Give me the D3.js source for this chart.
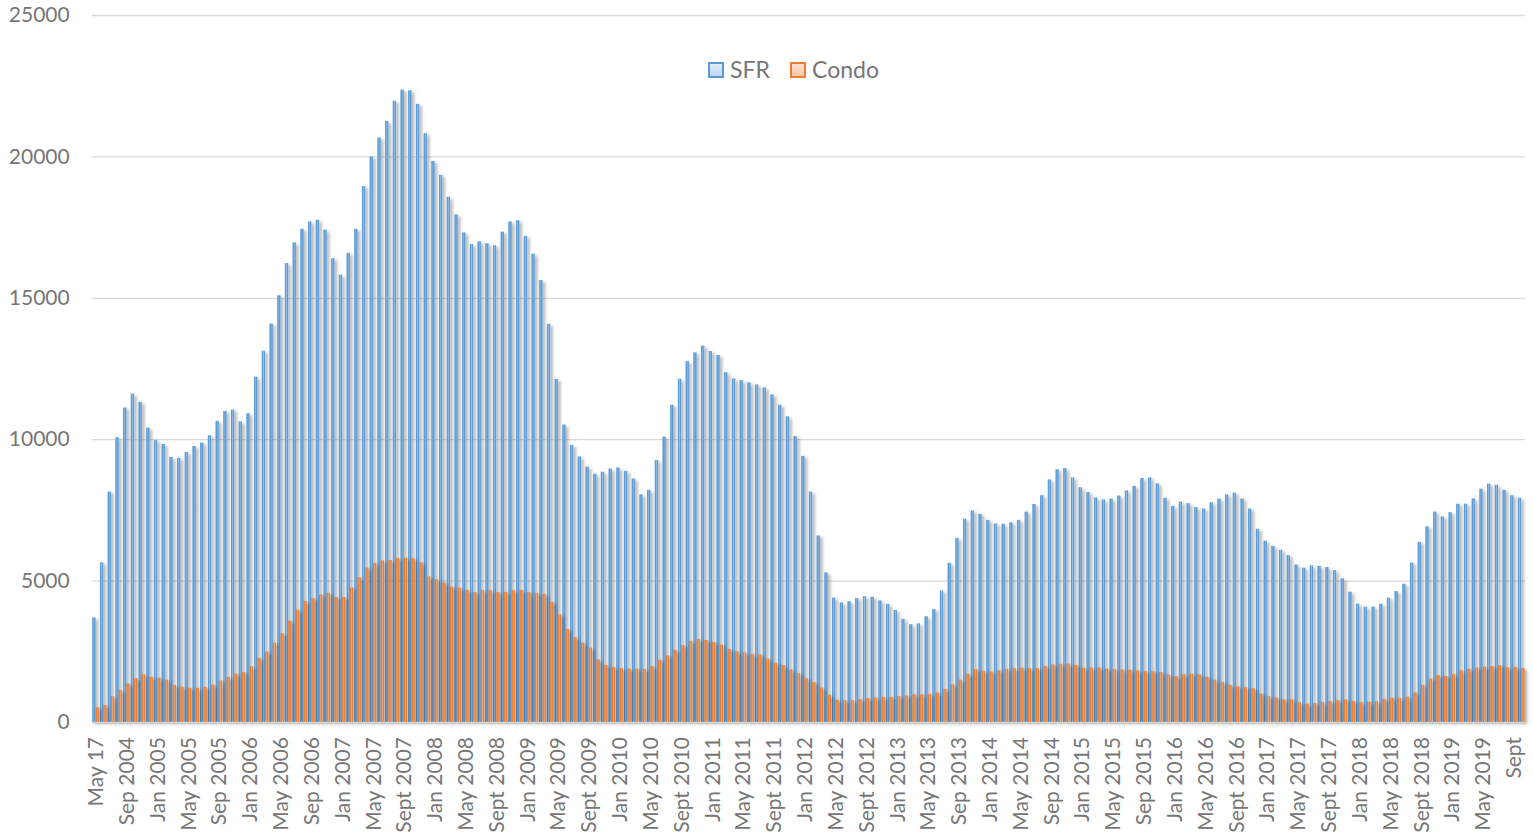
<!DOCTYPE html>
<meta charset="utf-8" />
<html>
<head>
<title>SFR vs Condo</title>
<script src="https://cdn.jsdelivr.net/npm/d3@7"></script>
<style>
  body { margin: 0; background: #fff; }
  text { font-family: Lato, "Open Sans", sans-serif; fill: #767676; }
</style>
</head>
<body>
<div id="viz"></div>
<script>

// monthly counts, May 2004 .. Oct 2019
var sfr = [3700, 5650, 8150, 10070, 11120, 11610, 11320, 10410, 9980, 9830,
  9370, 9340, 9550, 9760, 9880, 10140, 10650, 11000, 11050, 10630,
  10920, 12210, 13130, 14090, 15090, 16230, 16960, 17440, 17700, 17760,
  17410, 16400, 15820, 16590, 17440, 18950, 20000, 20670, 21250, 21970,
  22360, 22340, 21860, 20820, 19840, 19350, 18570, 17950, 17310, 16900,
  17000, 16930, 16860, 17340, 17700, 17740, 17190, 16560, 15630, 14080,
  12130, 10520, 9800, 9390, 9030, 8780, 8850, 8960, 9000, 8880,
  8610, 8050, 8210, 9270, 10090, 11220, 12140, 12760, 13070, 13310,
  13120, 12980, 12370, 12150, 12090, 12010, 11940, 11830, 11580, 11220,
  10810, 10110, 9410, 8150, 6600, 5290, 4400, 4230, 4270, 4380,
  4450, 4430, 4300, 4180, 3960, 3650, 3460, 3490, 3740, 3990,
  4650, 5630, 6510, 7190, 7480, 7360, 7150, 7020, 7010, 7060,
  7150, 7440, 7710, 8020, 8580, 8940, 8980, 8650, 8300, 8130,
  7940, 7870, 7900, 8010, 8190, 8350, 8630, 8650, 8440, 7930,
  7640, 7790, 7740, 7600, 7550, 7770, 7900, 8050, 8110, 7900,
  7550, 6830, 6410, 6230, 6090, 5900, 5570, 5460, 5540, 5520,
  5480, 5370, 5080, 4610, 4190, 4080, 4080, 4180, 4400, 4630,
  4890, 5640, 6370, 6920, 7440, 7270, 7420, 7720, 7720, 7910,
  8250, 8430, 8390, 8210, 8020, 7930];

var condo = [520, 600, 910, 1130, 1360, 1550, 1690, 1600, 1570, 1500,
  1310, 1250, 1210, 1210, 1240, 1320, 1470, 1600, 1710, 1760,
  1970, 2270, 2490, 2810, 3140, 3580, 3970, 4280, 4380, 4510,
  4570, 4420, 4420, 4760, 5120, 5460, 5630, 5710, 5730, 5790,
  5810, 5790, 5650, 5150, 5050, 4930, 4790, 4750, 4670, 4590,
  4670, 4660, 4590, 4600, 4660, 4670, 4590, 4570, 4530, 4250,
  3810, 3290, 3000, 2810, 2630, 2210, 2020, 1950, 1910, 1890,
  1890, 1880, 1980, 2200, 2360, 2550, 2720, 2870, 2940, 2900,
  2830, 2740, 2580, 2500, 2460, 2410, 2390, 2240, 2100, 2010,
  1860, 1730, 1550, 1410, 1220, 970, 790, 770, 770, 810,
  840, 870, 890, 890, 920, 940, 980, 980, 1000, 1040,
  1170, 1330, 1500, 1700, 1870, 1810, 1790, 1830, 1880, 1900,
  1920, 1900, 1900, 1980, 2040, 2060, 2070, 2020, 1920, 1930,
  1930, 1890, 1870, 1860, 1850, 1820, 1800, 1800, 1770, 1680,
  1620, 1690, 1710, 1690, 1600, 1500, 1420, 1310, 1260, 1230,
  1190, 1010, 920, 870, 800, 800, 700, 650, 670, 710,
  740, 770, 800, 750, 700, 720, 730, 820, 860, 850,
  900, 1050, 1310, 1540, 1660, 1630, 1700, 1830, 1880, 1930,
  1960, 1980, 2010, 1940, 1950, 1910];

// every 4th month gets a label
var tickLabels = ["May 17", "Sep 2004", "Jan 2005", "May 2005", "Sep 2005",
  "Jan 2006", "May 2006", "Sep 2006", "Jan 2007", "May 2007", "Sept 2007",
  "Jan 2008", "May 2008", "Sept 2008", "Jan 2009", "May 2009", "Sept 2009",
  "Jan 2010", "May 2010", "Sept 2010", "Jan 2011", "May 2011", "Sept 2011",
  "Jan 2012", "May 2012", "Sept 2012", "Jan 2013", "May 2013", "Sep 2013",
  "Jan 2014", "May 2014", "Sep 2014", "Jan 2015", "May 2015", "Sep 2015",
  "Jan 2016", "May 2016", "Sept 2016", "Jan 2017", "May 2017", "Sept 2017",
  "Jan 2018", "May 2018", "Sept 2018", "Jan 2019", "May 2019", "Sept"];

var seriesNames = ["SFR", "Condo"];
var seriesData = [sfr, condo];

var width = 1533,
    height = 836;
var plotL = 91.7, plotR = 1525, plotT = 15, plotB = 722;

var svg = d3.select("#viz").append("svg")
    .attr("width", width)
    .attr("height", height);

var defs = svg.append("defs");

// bar fills: darker edges, lighter middle
var barCols = [["#5b9bd5", "#94c0ea"], ["#ed7d31", "#f6a872"]];
barCols.forEach(function(c, k) {
  var gr = defs.append("linearGradient").attr("id", "bar" + k)
    .attr("x1", 0).attr("x2", 1).attr("y1", 0).attr("y2", 0);
  gr.append("stop").attr("offset", "0%").attr("stop-color", c[0]);
  gr.append("stop").attr("offset", "30%").attr("stop-color", c[0]);
  gr.append("stop").attr("offset", "50%").attr("stop-color", c[1]);
  gr.append("stop").attr("offset", "70%").attr("stop-color", c[0]);
  gr.append("stop").attr("offset", "100%").attr("stop-color", c[0]);
});

// legend swatch fills
var legCols = [["#e3eefa", "#b9d5f1"], ["#fde3d4", "#f9c2a1"]];
legCols.forEach(function(c, k) {
  var gr = defs.append("linearGradient").attr("id", "leg" + k)
    .attr("x1", 0).attr("x2", 0).attr("y1", 0).attr("y2", 1);
  gr.append("stop").attr("offset", "0%").attr("stop-color", c[0]);
  gr.append("stop").attr("offset", "100%").attr("stop-color", c[1]);
});

var filt = defs.append("filter").attr("id", "shadow")
  .attr("filterUnits", "userSpaceOnUse")
  .attr("x", 0).attr("y", 0).attr("width", width).attr("height", height);
filt.append("feDropShadow")
  .attr("dx", 2.5).attr("dy", 2)
  .attr("stdDeviation", 1.5)
  .attr("flood-color", "#000")
  .attr("flood-opacity", 0.32);

var x = d3.scaleBand()
    .domain(d3.range(sfr.length))
    .range([plotL, plotR])
    .paddingInner(0.13)
    .paddingOuter(0.065);
var x1 = d3.scaleBand()
    .domain(d3.range(seriesNames.length))
    .range([0, x.bandwidth()]);
var y = d3.scaleLinear().domain([0, 25000]).range([plotB, plotT]);

// gridlines + y labels
var yAxis = d3.axisLeft(y)
    .tickValues(d3.range(0, 25001, 5000))
    .tickSize(-(plotR - plotL))
    .tickPadding(22)
    .tickFormat(d3.format("d"));
var gy = svg.append("g")
    .attr("transform", "translate(" + plotL + ",0)")
    .call(yAxis);
gy.select(".domain").remove();
gy.selectAll(".tick line").attr("stroke", "#d9d9d9").attr("stroke-width", 1.3);
gy.selectAll(".tick text")
    .style("font-size", "21px")
    .attr("fill", "#767676");

// bars, one group per series
seriesData.forEach(function(vals, k) {
  svg.append("g")
    .attr("filter", "url(#shadow)")
    .selectAll("rect")
    .data(vals)
    .enter().append("rect")
    .attr("x", function(d, i) { return x(i) + x1(k); })
    .attr("width", x1.bandwidth())
    .attr("y", function(d) { return y(d); })
    .attr("height", function(d) { return plotB - y(d); })
    .attr("fill", "url(#bar" + k + ")");
});

// x axis
var xAxis = d3.axisBottom(x)
    .tickValues(d3.range(0, sfr.length, 4))
    .tickSize(0)
    .tickFormat(function(i) { return tickLabels[i / 4]; });
var gx = svg.append("g")
    .attr("transform", "translate(0," + plotB + ")")
    .call(xAxis);
gx.select(".domain").attr("stroke", "#d0d0d0").attr("stroke-width", 1.6);
gx.selectAll(".tick text")
    .style("font-size", "21px")
    .attr("fill", "#767676")
    .attr("text-anchor", "end")
    .attr("transform", "rotate(-90)")
    .attr("x", -15)
    .attr("y", 0)
    .attr("dy", "0.36em");

// legend
var legX = [708, 790];
var leg = svg.append("g");
seriesNames.forEach(function(name, k) {
  leg.append("rect")
    .attr("x", legX[k] + 1).attr("y", 63)
    .attr("width", 14).attr("height", 14)
    .attr("fill", "url(#leg" + k + ")")
    .attr("stroke", barCols[k][0])
    .attr("stroke-width", 2);
  leg.append("text")
    .attr("x", legX[k] + 22).attr("y", 70)
    .attr("dy", "0.36em")
    .style("font-size", "23px")
    .attr("fill", "#767676")
    .text(name);
});

</script>
</body>
</html>
